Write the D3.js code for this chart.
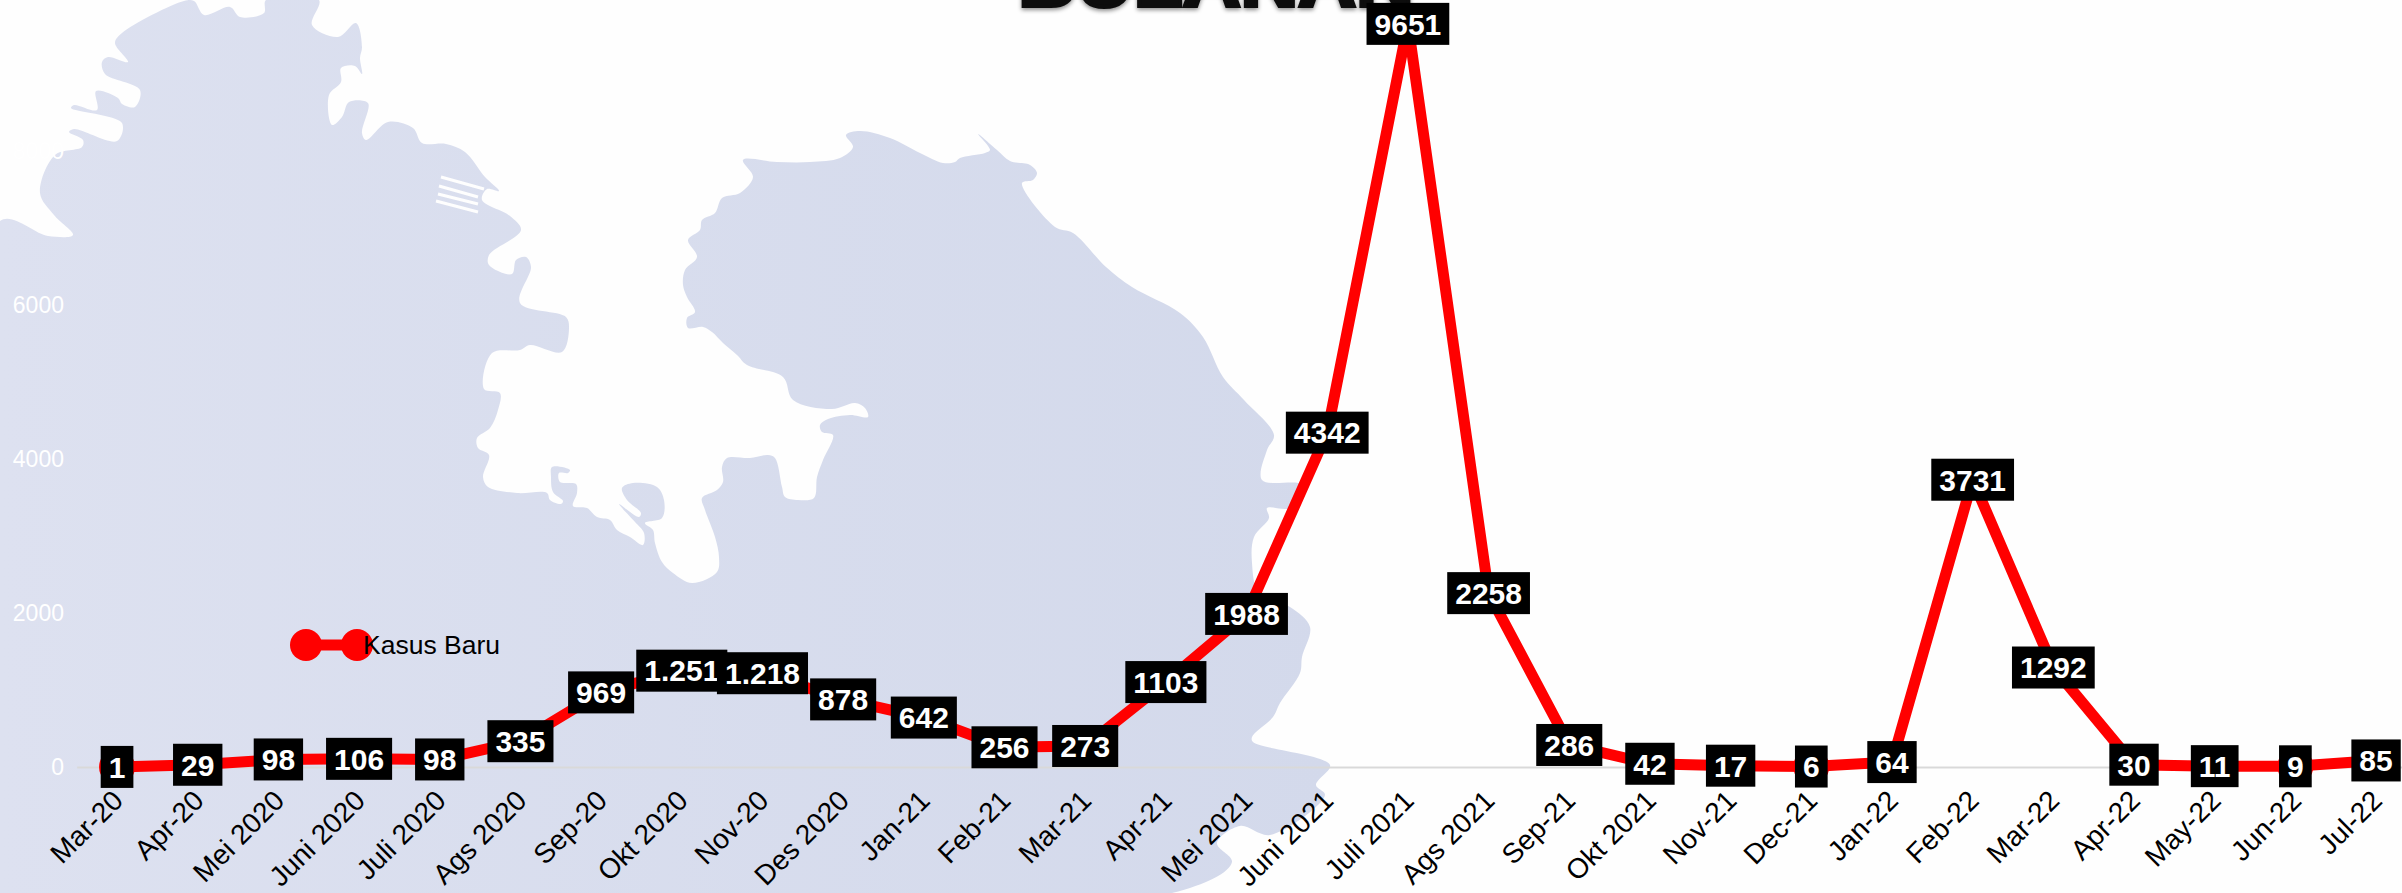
<!DOCTYPE html>
<html>
<head>
<meta charset="utf-8">
<script src="https://cdn.jsdelivr.net/npm/d3@7"></script>
<style>
    html, body { margin: 0; padding: 0; background: #fefefe; overflow: hidden; }
    svg { display: block; font-family: "Liberation Sans", Arial, sans-serif; }
    .y-axis text { fill: #fff; font-size: 23px; }
    .x-axis text { fill: #000; font-size: 28px; }
    .x-axis path { stroke: #d9d9d9; stroke-width: 2; }
    .value-label { fill: #fff; font-size: 30px; font-weight: bold; }
    .legend-label { fill: #000; font-size: 26.5px; }
    .title { fill: #0d0d0d; stroke: #0d0d0d; stroke-width: 4px; font-size: 80px; font-weight: bold;
             filter: drop-shadow(0 2px 2px rgba(0,0,0,.45)); }
</style>
</head>
<body>
<div id="chart"></div>
<script>
// Kasus baru per bulan
const months = ["Mar-20", "Apr-20", "Mei 2020", "Juni 2020", "Juli 2020", "Ags 2020", "Sep-20", "Okt 2020",
    "Nov-20", "Des 2020", "Jan-21", "Feb-21", "Mar-21", "Apr-21", "Mei 2021", "Juni 2021", "Juli 2021",
    "Ags 2021", "Sep-21", "Okt 2021", "Nov-21", "Dec-21", "Jan-22", "Feb-22", "Mar-22", "Apr-22", "May-22",
    "Jun-22", "Jul-22"];
const newCases = [1, 29, 98, 106, 98, 335, 969, 1251, 1218, 878, 642, 256, 273, 1103, 1988, 4342, 9651,
    2258, 286, 42, 17, 6, 64, 3731, 1292, 30, 11, 9, 85];
const caseLabels = ["1", "29", "98", "106", "98", "335", "969", "1.251", "1.218", "878", "642", "256", "273",
    "1103", "1988", "4342", "9651", "2258", "286", "42", "17", "6", "64", "3731", "1292", "30", "11", "9", "85"];
const yTicks = [0, 2000, 4000, 6000, 8000];
const seriesName = "Kasus Baru";
const titleText = "BULANAN";

// Background map outline (page pixels)
const mapOutline = [[0,221],[48,236],[73,235],[54,215],[40,193],[55,155],[82,147],[83,140],[69,132],[74,129],
    [117,141],[122,123],[71,108],[74,105],[97,110],[96,91],[118,98],[122,104],[135,107],[140,90],[105,74],
    [102,62],[108,57],[128,62],[115,43],[122,33],[184,1],[194,1],[204,15],[230,7],[240,17],[264,13],[266,0],
    [319,0],[312,25],[338,37],[356,23],[362,47],[360,58],[362,74],[355,66],[341,68],[341,82],[329,95],
    [332,125],[342,117],[349,102],[368,103],[362,133],[366,140],[388,122],[413,128],[422,143],[446,144],
    [465,152],[485,177],[499,191],[487,189],[482,200],[510,216],[521,230],[489,255],[489,265],[512,274],
    [516,260],[526,257],[531,267],[520,303],[566,317],[569,328],[562,352],[530,345],[520,350],[492,353],
    [484,389],[500,393],[498,410],[490,428],[477,438],[478,448],[489,455],[483,477],[488,487],[517,493],
    [547,493],[550,500],[561,504],[563,501],[553,492],[551,477],[552,467],[570,470],[568,473],[559,473],
    [560,482],[576,484],[577,493],[573,506],[587,508],[597,517],[610,520],[617,530],[630,537],[643,545],
    [644,533],[635,522],[619,504],[639,517],[641,513],[627,500],[622,488],[633,483],[657,487],[664,500],
    [662,518],[645,523],[653,530],[655,543],[662,562],[673,573],[692,583],[717,572],[719,557],[715,537],
    [705,510],[702,498],[717,490],[723,482],[722,467],[727,458],[750,458],[768,455],[775,458],[782,487],
    [785,497],[798,500],[814,498],[817,477],[823,460],[833,435],[822,432],[820,425],[828,419],[850,415],
    [868,417],[865,408],[855,403],[832,409],[793,400],[783,377],[747,365],[737,355],[723,343],[712,332],[703,327],
    [688,328],[687,318],[695,312],[687,297],[683,285],[685,270],[697,257],[688,240],[700,230],[702,220],
    [715,213],[722,198],[740,193],[753,177],[743,160],[777,162],[810,162],[840,158],[853,147],[846,135],
    [860,131],[890,138],[920,153],[943,163],[955,162],[960,158],[985,153],[990,150],[978,134],[997,150],
    [1010,161],[1030,165],[1037,173],[1033,180],[1022,183],[1055,227],[1073,233],[1106,267],[1132,287],
    [1180,313],[1203,337],[1223,377],[1244,400],[1274,435],[1267,450],[1262,480],[1302,485],[1290,508],
    [1267,508],[1269,518],[1254,537],[1252,563],[1259,593],[1290,607],[1310,627],[1302,657],[1300,673],
    [1280,703],[1273,717],[1252,737],[1253,742],[1330,765],[1316,785],[1325,795],[1270,835],[1240,826],
    [1217,843],[1232,862],[1172,893],[0,893]];
const bookStripes = [[[441,177],[484,189]], [[439,186],[478,197]], [[438,194],[478,204]], [[436,201],[478,212]]];

const width = 2402;
const height = 893;

const svg = d3.select("#chart")
    .append("svg")
    .attr("width", width)
    .attr("height", height);

// Map gradient, slightly darker towards the right
const gradient = svg.append("defs").append("linearGradient")
    .attr("id", "map-fill")
    .attr("gradientUnits", "userSpaceOnUse")
    .attr("x1", 0).attr("x2", 1330).attr("y1", 0).attr("y2", 0);
gradient.append("stop").attr("offset", "0%").attr("stop-color", "#dde1f0");
gradient.append("stop").attr("offset", "100%").attr("stop-color", "#d3d9eb");

// Rounded curve so the coast does not look like a polygon
const mapLine = d3.line().curve(d3.curveCatmullRomClosed.alpha(0.5));
svg.append("path")
    .attr("d", mapLine(mapOutline))
    .attr("fill", "url(#map-fill)");

svg.selectAll(".book-stripe")
    .data(bookStripes)
    .enter()
    .append("path")
    .attr("class", "book-stripe")
    .attr("d", d => d3.line()(d))
    .attr("stroke", "#fefefe")
    .attr("stroke-width", 3);

const x = d3.scalePoint()
    .domain(months)
    .range([76.7, 2416.4])
    .padding(0.5);

const y = d3.scaleLinear()
    .domain([0, 10000])
    .range([767, -3]);

// Y axis, white text only shows over the map
svg.append("g")
    .attr("class", "y-axis")
    .attr("transform", "translate(67,0)")
    .call(d3.axisLeft(y).tickValues(yTicks).tickFormat(d => d).tickSize(0))
    .call(g => g.select(".domain").remove());

// X axis
const xAxis = svg.append("g")
    .attr("class", "x-axis")
    .attr("transform", `translate(0,${y(0)})`)
    .call(d3.axisBottom(x).tickSize(0).tickSizeOuter(0));

xAxis.selectAll("text")
    .attr("text-anchor", "end")
    .attr("dominant-baseline", "middle")
    .attr("x", 0)
    .attr("dy", 0)
    .attr("y", 0)
    .attr("transform", "translate(2,30) rotate(-45)");

// Title, cut off by the top of the page
svg.append("text")
    .attr("class", "title")
    .attr("x", 1216)
    .attr("y", 6)
    .attr("text-anchor", "middle")
    .text(titleText);

const rows = months.map((m, i) => ({ month: m, value: newCases[i], label: caseLabels[i] }));

const line = d3.line()
    .x(d => x(d.month))
    .y(d => y(d.value));

svg.append("path")
    .datum(rows)
    .attr("d", line)
    .attr("fill", "none")
    .attr("stroke", "#ff0000")
    .attr("stroke-width", 11);

svg.selectAll(".marker")
    .data(rows)
    .enter()
    .append("circle")
    .attr("class", "marker")
    .attr("cx", d => x(d.month))
    .attr("cy", d => y(d.value))
    .attr("r", 18)
    .attr("fill", "#ff0000");

// Value labels: black box behind white text
const labels = svg.selectAll(".value")
    .data(rows)
    .enter()
    .append("g")
    .attr("class", "value")
    .attr("transform", d => `translate(${x(d.month)},${y(d.value)})`);

const boxes = labels.append("rect")
    .attr("y", -21)
    .attr("height", 42)
    .attr("fill", "#000");

const labelText = labels.append("text")
    .attr("class", "value-label")
    .attr("text-anchor", "middle")
    .attr("dy", "0.36em")
    .text(d => d.label);

boxes.each(function(d, i) {
    const w = labelText.nodes()[i].getComputedTextLength() + 16;
    d3.select(this).attr("x", -w / 2).attr("width", w);
});

// Legend
const legend = svg.append("g")
    .attr("class", "legend")
    .attr("transform", "translate(306,645)");

legend.append("line")
    .attr("x2", 51)
    .attr("stroke", "#ff0000")
    .attr("stroke-width", 11);

legend.selectAll("circle")
    .data([0, 51])
    .enter()
    .append("circle")
    .attr("cx", d => d)
    .attr("r", 16)
    .attr("fill", "#ff0000");

legend.append("text")
    .attr("class", "legend-label")
    .attr("x", 57)
    .attr("dy", "0.35em")
    .text(seriesName);
</script>
</body>
</html>
